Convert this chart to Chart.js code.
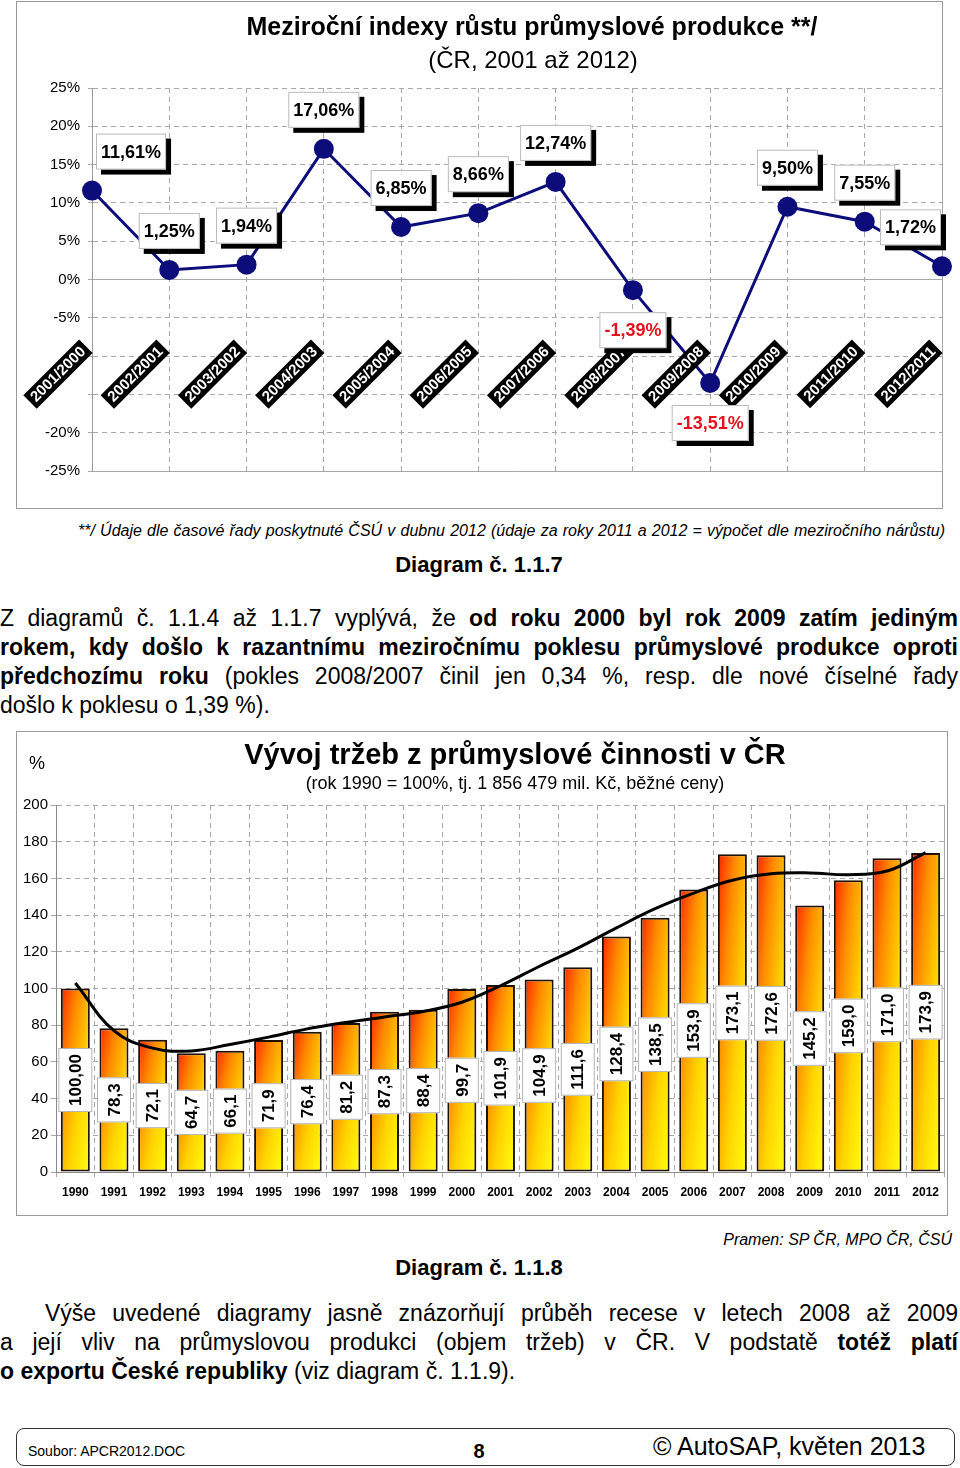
<!DOCTYPE html>
<html lang="cs">
<head>
<meta charset="utf-8">
<title>Meziroční indexy a vývoj tržeb</title>
<script src="https://cdn.jsdelivr.net/npm/chart.js@4/dist/chart.umd.min.js"></script>
<style>
  body { margin: 0; background: #fff; font-family: "Liberation Sans", Arial, sans-serif; color: #000; }
  #page { position: relative; width: 960px; height: 1468px; overflow: hidden; }
  .t { position: absolute; white-space: nowrap; line-height: 1; }
  .c { transform: translateX(-50%); }
  .j { text-align: justify; text-align-last: justify; }
  .box { position: absolute; border: 1px solid #9a9a9a; box-sizing: border-box; }
  canvas { position: absolute; }
</style>
</head>
<body>
<div id="page">

  <!-- diagram 1.1.7 -->
  <div class="box" style="left:16px;top:1px;width:927px;height:508px;"></div>
  <canvas id="growthChart" width="944" height="507" style="left:16px;top:1px;"></canvas>
  <div class="t c" style="left:532px;top:14px;font-size:25px;font-weight:bold;">Meziroční indexy růstu průmyslové produkce **/</div>
  <div class="t c" style="left:533px;top:48px;font-size:24px;">(ČR, 2001 až 2012)</div>

  <div class="t j" style="left:78px;top:523px;width:867px;font-size:16px;font-style:italic;">**/ Údaje dle časové řady poskytnuté ČSÚ v dubnu 2012 (údaje za roky 2011 a 2012 = výpočet dle meziročního nárůstu)</div>
  <div class="t c" style="left:479px;top:554px;font-size:22px;font-weight:bold;">Diagram č. 1.1.7</div>

  <div class="t j" style="left:0;top:607px;width:958px;font-size:23px;">Z diagramů č. 1.1.4 až 1.1.7 vyplývá, že <b>od roku 2000 byl rok 2009 zatím jediným</b></div>
  <div class="t j" style="left:0;top:636px;width:958px;font-size:23px;"><b>rokem, kdy došlo k razantnímu meziročnímu poklesu průmyslové produkce oproti</b></div>
  <div class="t j" style="left:0;top:665px;width:958px;font-size:23px;"><b>předchozímu roku</b> (pokles 2008/2007 činil jen 0,34 %, resp. dle nové číselné řady</div>
  <div class="t" style="left:0;top:694px;font-size:23px;">došlo k poklesu o 1,39 %).</div>

  <!-- diagram 1.1.8 -->
  <div class="box" style="left:16px;top:731px;width:932px;height:485px;"></div>
  <canvas id="salesChart" width="931" height="484" style="left:16px;top:731px;"></canvas>
  <div class="t c" style="left:37px;top:754px;font-size:18px;">%</div>
  <div class="t c" style="left:515px;top:740px;font-size:29px;font-weight:bold;">Vývoj tržeb z průmyslové činnosti v ČR</div>
  <div class="t c" style="left:515px;top:774px;font-size:18px;">(rok 1990 = 100%, tj. 1 856 479 mil. Kč, běžné ceny)</div>

  <div class="t" style="right:8px;top:1232px;font-size:16px;font-style:italic;">Pramen: SP ČR, MPO ČR, ČSÚ</div>
  <div class="t c" style="left:479px;top:1257px;font-size:22px;font-weight:bold;">Diagram č. 1.1.8</div>

  <div class="t j" style="left:45px;top:1302px;width:913px;font-size:23px;">Výše uvedené diagramy jasně znázorňují průběh recese v letech 2008 až 2009</div>
  <div class="t j" style="left:0;top:1331px;width:958px;font-size:23px;">a její vliv na průmyslovou produkci (objem tržeb) v ČR. V podstatě <b>totéž platí</b></div>
  <div class="t" style="left:0;top:1360px;font-size:23px;"><b>o exportu České republiky</b> (viz diagram č. 1.1.9).</div>

  <!-- footer -->
  <div style="position:absolute;left:16px;top:1428px;width:939px;height:38px;border:1.5px solid #333;border-radius:8px;box-sizing:border-box;"></div>
  <div class="t" style="left:28px;top:1444px;font-size:14px;">Soubor: APCR2012.DOC</div>
  <div class="t c" style="left:479px;top:1441px;font-size:20px;font-weight:bold;">8</div>
  <div class="t" style="left:653px;top:1434px;font-size:25px;font-family:'Liberation Sans Narrow','Liberation Sans',sans-serif;">© AutoSAP, květen 2013</div>
</div>

<script>
Chart.defaults.font.family = '"Liberation Sans", Arial, sans-serif';
Chart.defaults.color = '#000';

// meziroční indexy 2001-2012
const periods = ['2001/2000', '2002/2001', '2003/2002', '2004/2003', '2005/2004', '2006/2005',
                 '2007/2006', '2008/2007', '2009/2008', '2010/2009', '2011/2010', '2012/2011'];
const growth = [11.61, 1.25, 1.94, 17.06, 6.85, 8.66, 12.74, -1.39, -13.51, 9.50, 7.55, 1.72];

// tržby z průmyslové činnosti, 1990 = 100
const years = ['1990', '1991', '1992', '1993', '1994', '1995', '1996', '1997', '1998', '1999', '2000',
               '2001', '2002', '2003', '2004', '2005', '2006', '2007', '2008', '2009', '2010', '2011', '2012'];
const sales = [100.00, 78.3, 72.1, 64.7, 66.1, 71.9, 76.4, 81.2, 87.3, 88.4, 99.7,
               101.9, 104.9, 111.6, 128.4, 138.5, 153.9, 173.1, 172.6, 145.2, 159.0, 171.0, 173.9];
const trend = [103, 77, 67.5, 66, 69.5, 73.5, 78, 81.5, 84.5, 87.5, 92.5,
               101.5, 112, 122, 133, 143.5, 152, 159, 162.5, 163, 162, 164, 174];

function dashUnlessEdge(ctx, solidValues) {
  if (ctx.type !== 'tick') return [];
  return solidValues.includes(ctx.tick.value) ? [] : [5, 4];
}

// labels in white boxes with a black shadow
const growthLabels = {
  id: 'growthLabels',
  afterDraw(chart) {
    const ctx = chart.ctx, area = chart.chartArea;
    const meta = chart.getDatasetMeta(0);
    ctx.save();
    ctx.font = 'bold 18px "Liberation Sans", Arial, sans-serif';
    ctx.textAlign = 'center';
    ctx.textBaseline = 'middle';
    meta.data.forEach((pt, i) => {
      const v = growth[i];
      const text = v.toFixed(2).replace('.', ',') + '%';
      const w = ctx.measureText(text).width + 10, h = 36;
      let cx = Math.max(area.left + 4 + w / 2, Math.min(area.right - 1 - w / 2, pt.x));
      const cy = v >= 0 ? pt.y - 39 : pt.y + 40;
      const bx = cx - w / 2, by = cy - h / 2;
      ctx.fillStyle = '#000';
      ctx.fillRect(bx + 5, by + 5, w, h);
      ctx.fillStyle = '#fff';
      ctx.fillRect(bx, by, w, h);
      ctx.strokeStyle = '#bbb';
      ctx.lineWidth = 1;
      ctx.strokeRect(bx + 0.5, by + 0.5, w - 1, h - 1);
      ctx.fillStyle = v < 0 ? '#e3141e' : '#000';
      ctx.fillText(text, cx, cy + 1);
    });
    ctx.restore();
  }
};

new Chart(document.getElementById('growthChart'), {
  type: 'line',
  data: {
    labels: periods,
    datasets: [{
      data: growth,
      borderColor: '#0c0c7a',
      backgroundColor: '#0c0c7a',
      borderWidth: 3,
      pointRadius: 10,
      pointBorderWidth: 0,
      pointBackgroundColor: '#0c0c7a',
      tension: 0,
      clip: false
    }]
  },
  options: {
    responsive: false,
    animation: false,
    layout: { padding: { top: 87, bottom: 37, right: 18, left: 0 } },
    plugins: { legend: { display: false }, tooltip: { enabled: false } },
    scales: {
      x: {
        type: 'category',
        position: { y: -8.3 },
        offset: false,
        grid: { color: '#a8a8a8', drawTicks: false },
        border: { display: false, dash: ctx => dashUnlessEdge(ctx, [0, 11]) },
        ticks: {
          autoSkip: false,
          minRotation: 45,
          maxRotation: 45,
          padding: 0,
          labelOffset: -15,
          color: '#fff',
          font: { size: 15, weight: 'bold' },
          showLabelBackdrop: true,
          backdropColor: '#000',
          backdropPadding: { top: 1, bottom: 0, left: 4, right: 4 },
          z: 1
        }
      },
      y: {
        min: -25,
        max: 25,
        grid: { color: '#a8a8a8', tickLength: 4 },
        border: { color: '#9a9a9a', dash: ctx => dashUnlessEdge(ctx, [0, -25]) },
        ticks: {
          stepSize: 5,
          padding: 8,
          font: { size: 15 },
          callback: v => (v === -10 || v === -15) ? '' : v + '%'
        },
        afterFit: s => { s.width = 76; }
      }
    }
  },
  plugins: [growthLabels]
});

// orange-yellow fill, scaled to each bar
function barFill(c) {
  const chart = c.chart, xs = chart.scales.x, ys = chart.scales.y;
  if (c.type !== 'data' || !xs || !ys || !chart.chartArea) return '#ff9900';
  const w = (xs.width / years.length) * 0.75;
  const x0 = xs.getPixelForValue(c.dataIndex) - w / 2;
  const top = ys.getPixelForValue(sales[c.dataIndex]), base = ys.getPixelForValue(0);
  const h = Math.max(base - top, 1);
  const k = 2 * w * h / (h * h + w * w);
  if (![w, x0, top, base, k].every(Number.isFinite)) return '#ff9900';
  const g = chart.ctx.createLinearGradient(x0, top, x0 + h * k, top + w * k);
  g.addColorStop(0, '#ff2400');
  g.addColorStop(0.3, '#ff8a00');
  g.addColorStop(0.62, '#ffd200');
  g.addColorStop(1, '#ffff10');
  return g;
}

const salesLabels = {
  id: 'salesLabels',
  afterDatasetsDraw(chart) {
    const ctx = chart.ctx;
    const meta = chart.getDatasetMeta(1);
    ctx.save();
    ctx.font = 'bold 17px "Liberation Sans", Arial, sans-serif';
    ctx.textAlign = 'center';
    ctx.textBaseline = 'middle';
    meta.data.forEach((bar, i) => {
      const text = sales[i].toFixed(i === 0 ? 2 : 1).replace('.', ',');
      const len = ctx.measureText(text).width + 12, thick = 34;
      const cy = (bar.y + bar.base) / 2;
      ctx.save();
      ctx.translate(bar.x, cy);
      ctx.rotate(-Math.PI / 2);
      ctx.fillStyle = '#fff';
      ctx.fillRect(-len / 2, -thick / 2, len, thick);
      ctx.strokeStyle = '#b5b5b5';
      ctx.lineWidth = 1;
      ctx.strokeRect(-len / 2 + 0.5, -thick / 2 + 0.5, len - 1, thick - 1);
      ctx.fillStyle = '#000';
      ctx.fillText(text, 0, 1);
      ctx.restore();
    });
    ctx.restore();
  }
};

new Chart(document.getElementById('salesChart'), {
  type: 'bar',
  data: {
    labels: years,
    datasets: [{
      type: 'line',
      data: trend,
      borderColor: '#000',
      borderWidth: 3,
      pointRadius: 0,
      tension: 0.4,
      order: 0
    }, {
      type: 'bar',
      data: sales,
      backgroundColor: barFill,
      borderColor: '#1e1208',
      borderWidth: 2,
      borderSkipped: false,
      barPercentage: 0.75,
      categoryPercentage: 1.0,
      order: 1
    }]
  },
  options: {
    responsive: false,
    animation: false,
    layout: { padding: { top: 74, bottom: 16, right: 1, left: 0 } },
    plugins: { legend: { display: false }, tooltip: { enabled: false } },
    scales: {
      x: {
        grid: { color: '#a8a8a8', tickLength: 5, offset: true },
        border: { color: '#8a8a8a', dash: ctx => (ctx.type === 'tick' && ctx.index < years.length) ? [5, 4] : [] },
        ticks: { autoSkip: false, maxRotation: 0, padding: 8, font: { size: 12, weight: 'bold' } },
        afterFit: s => { s.height = 27; }
      },
      y: {
        min: 0,
        max: 200,
        grid: { color: '#a8a8a8', tickLength: 5 },
        border: { color: '#8a8a8a', dash: ctx => dashUnlessEdge(ctx, [0]) },
        ticks: { stepSize: 20, padding: 3, font: { size: 15 } },
        afterFit: s => { s.width = 40; }
      }
    }
  },
  plugins: [salesLabels]
});
</script>
</body>
</html>
